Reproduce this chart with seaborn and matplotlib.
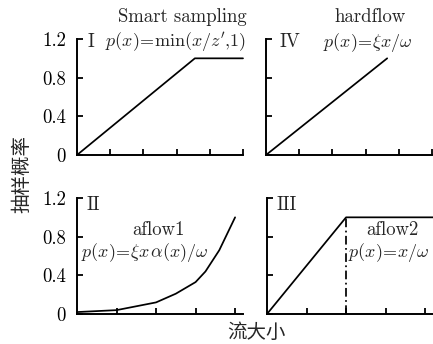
import matplotlib
matplotlib.use("Agg")
import matplotlib.pyplot as plt
import seaborn as sns
import pandas as pd

# --- data ---
smart_x = [0, 3.55, 5.0]
smart_y = [0, 1.0, 1.0]

hard_x = [0, 3.65]
hard_y = [0, 1.0]

aflow1_x = [0, 1.0, 2.0, 2.5, 3.0, 3.25, 3.6, 4.0]
aflow1_y = [0.02, 0.04, 0.12, 0.21, 0.33, 0.44, 0.66, 1.0]

aflow2_x = [0, 2.0, 4.2]
aflow2_y = [0, 1.0, 1.0]
aflow2_knee = 2.0

yticks = [0, 0.4, 0.8, 1.2]
yticklabels = ["0", "0.4", "0.8", "1.2"]

sns.set_theme(style="ticks")
plt.rcParams["font.family"] = ["cmr10", "DejaVu Serif"]
plt.rcParams["mathtext.fontset"] = "cm"
plt.rcParams["axes.formatter.use_mathtext"] = True
plt.rcParams["axes.linewidth"] = 1.4
plt.rcParams["axes.edgecolor"] = "black"

fs = 13.5
ffs = 13  # formula size
fig = plt.figure(figsize=(4.33, 3.44), dpi=100)
W, H = 433, 344


def make_ax(x0, y_top, xmax, xticks, left_labels):
    ax = fig.add_axes([x0 / W, 1 - (y_top + 116) / H, 166 / W, 116 / H])
    ax.set_xlim(0, xmax)
    ax.set_ylim(0, 1.2)
    ax.set_xticks(xticks)
    ax.set_xticklabels([])
    ax.set_yticks(yticks)
    if left_labels:
        ax.set_yticklabels(yticklabels, fontsize=fs)
    else:
        ax.set_yticklabels([])
    ax.tick_params(direction="in", length=4, width=1.3, colors="black", pad=8)
    ax.set_facecolor("white")
    ax.grid(False)
    sns.despine(ax=ax)
    return ax


ax1 = make_ax(77, 39, 5.0, [1, 2, 3, 4, 5], True)
ax4 = make_ax(266, 39, 5.0, [1, 2, 3, 4, 5], False)
ax2 = make_ax(77, 198, 4.2, [1, 2, 3, 4], True)
ax3 = make_ax(267, 198, 4.2, [1, 2, 3, 4], False)

kw = dict(color="black", linewidth=1.25)
sns.lineplot(data=pd.DataFrame({"x": smart_x, "y": smart_y}), x="x", y="y", ax=ax1, **kw)
sns.lineplot(data=pd.DataFrame({"x": hard_x, "y": hard_y}), x="x", y="y", ax=ax4, **kw)
sns.lineplot(data=pd.DataFrame({"x": aflow1_x, "y": aflow1_y}), x="x", y="y", ax=ax2, **kw)
sns.lineplot(data=pd.DataFrame({"x": aflow2_x, "y": aflow2_y}), x="x", y="y", ax=ax3, **kw)
ax3.plot([aflow2_knee, aflow2_knee], [0, 1.0], color="black", linewidth=1.25,
         linestyle=(0, (5, 2, 1, 2)))

for ax in (ax1, ax2, ax3, ax4):
    ax.set_xlabel("")
    ax.set_ylabel("")
    for ln in ax.lines:
        ln.set_clip_on(False)

# panel texts
ax1.text(1.02, 1.19, "Smart sampling", transform=ax1.transAxes, ha="right", va="center", fontsize=fs)
ax1.text(0.066, 0.97, "I", transform=ax1.transAxes, ha="left", va="center", fontsize=fs)
ax1.text(1.02, 0.97, r"$p(x)\!=\!\mathrm{min}(x/z'{,}1)$", transform=ax1.transAxes,
         ha="right", va="center", fontsize=ffs)

ax4.text(0.627, 1.19, "hardflow", transform=ax4.transAxes, ha="center", va="center", fontsize=fs)
ax4.text(0.084, 0.97, "IV", transform=ax4.transAxes, ha="left", va="center", fontsize=fs)
ax4.text(0.614, 0.97, r"$p(x)\!=\!\xi x/\omega$", transform=ax4.transAxes, ha="center", va="center", fontsize=ffs)

ax2.text(0.06, 0.94, "II", transform=ax2.transAxes, ha="left", va="center", fontsize=fs)
ax2.text(0.49, 0.724, "aflow1", transform=ax2.transAxes, ha="center", va="center", fontsize=fs)
ax2.text(0.41, 0.534, r"$p(x)\!=\!\xi x\,\alpha(x)/\omega$", transform=ax2.transAxes,
         ha="center", va="center", fontsize=ffs)

ax3.text(0.06, 0.94, "III", transform=ax3.transAxes, ha="left", va="center", fontsize=fs)
ax3.text(0.755, 0.724, "aflow2", transform=ax3.transAxes, ha="center", va="center", fontsize=fs)
ax3.text(0.735, 0.534, r"$p(x)\!=\!x/\omega$", transform=ax3.transAxes, ha="center", va="center", fontsize=ffs)

# shared axis labels
fig.text(22 / W, 1 - 174 / H, "抽样概率", rotation=90, ha="center", va="center",
         fontsize=14, family=["Noto Sans CJK SC", "DejaVu Sans"])
fig.text(256 / W, 1 - 332 / H, "流大小", ha="center", va="center",
         fontsize=14, family=["Noto Sans CJK SC", "DejaVu Sans"])

fig.savefig("out.png", dpi=100, facecolor="white")
